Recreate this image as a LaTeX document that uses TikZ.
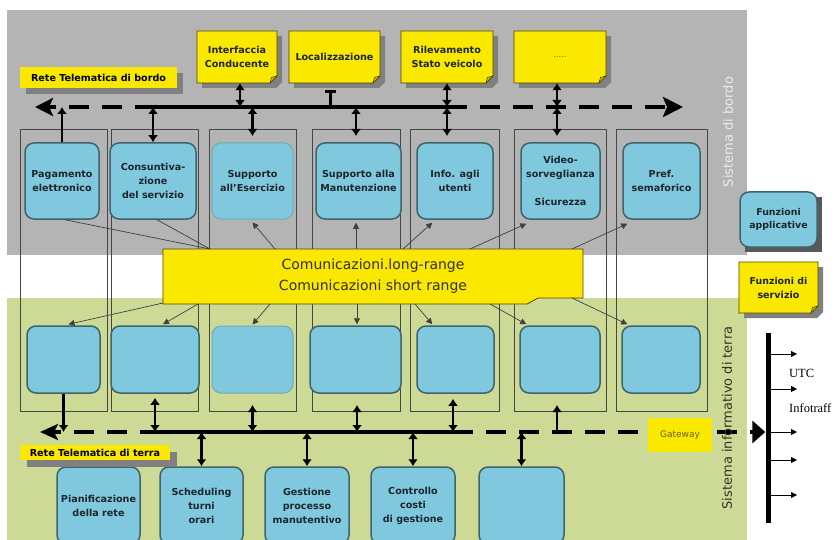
\documentclass[tikz,border=0pt]{standalone}
\usepackage{fontspec}
\setmainfont{DejaVu Sans}
\newfontfamily\serifface{Liberation Serif}
\usetikzlibrary{arrows.meta,calc}

\definecolor{bggray}{RGB}{180,180,180}
\definecolor{bggreen}{RGB}{205,218,150}
\definecolor{boxblue}{RGB}{128,200,221}
\definecolor{boxedge}{RGB}{62,100,110}
\definecolor{noteyellow}{RGB}{250,232,0}
\definecolor{noteedge}{RGB}{80,70,0}
\definecolor{notefoldc}{RGB}{205,190,0}
\definecolor{shadowgray}{RGB}{128,128,128}
\definecolor{inkdark}{RGB}{30,38,45}
\definecolor{colline}{RGB}{70,70,70}
\definecolor{gatetext}{RGB}{110,95,0}
\definecolor{sidewhite}{RGB}{236,236,236}
\definecolor{sidedark}{RGB}{50,50,40}

% yellow note with shadow and folded bottom-right corner
\newcommand\foldnote[6]{%
  \pgfmathsetmacro\nhw{#4/2}%
  \pgfmathsetmacro\nhh{#5/2}%
  \begin{scope}[shift={(#2,#3)}]
    \fill[shadowgray] (-\nhw+5,-\nhh+5) -- (\nhw+5,-\nhh+5) -- (\nhw+5,\nhh-1) -- (\nhw-1,\nhh+5) -- (-\nhw+5,\nhh+5) -- cycle;
    \filldraw[fill=noteyellow, draw=noteedge, line width=0.9pt] (-\nhw,-\nhh) -- (\nhw,-\nhh) -- (\nhw,\nhh-7) -- (\nhw-7,\nhh) -- (-\nhw,\nhh) -- cycle;
    \filldraw[fill=notefoldc, draw=noteedge, line width=0.6pt] (\nhw,\nhh-7) -- (\nhw-7,\nhh) -- (\nhw-5.5,\nhh-5.5) -- cycle;
  \end{scope}
  \node[notetext, minimum width=#4pt, minimum height=#5pt] (#1) at (#2,#3) {#6};
}

\begin{document}
\begin{tikzpicture}[x=1pt, y=-1pt,
  bluebox/.style={rounded corners=9pt, fill=boxblue, draw=boxedge, line width=1.5pt,
    text=inkdark, font=\bfseries\fontsize{9.6}{14}\selectfont, align=center, inner sep=0pt},
  notetext/.style={text=inkdark, font=\bfseries\fontsize{9.6}{14}\selectfont, align=center, inner sep=0pt},
  colbox/.style={draw=colline, line width=0.9pt, inner sep=0pt},
  bus/.style={line width=4pt, draw=black},
  busdash/.style={bus, dash pattern=on 20pt off 13pt},
  dbl/.style={line width=2.6pt, {Latex[length=7pt,width=10pt]}-{Latex[length=7pt,width=10pt]}},
  sgl/.style={line width=2.6pt, -{Latex[length=7pt,width=10pt]}},
  barc/.style={line width=2.6pt, {Bar[width=11pt,line width=2.5pt]}-},
  comline/.style={draw=black!75, line width=0.7pt},
  comarr/.style={comline, -{Triangle[length=6pt,width=6pt]}},
  tag/.style={fill=noteyellow, text=black, font=\bfseries\fontsize{9.6}{12}\selectfont, inner sep=0pt},
  outarr/.style={line width=0.8pt, -{Triangle[length=6pt,width=6pt]}},
]
\useasboundingbox (0,0) rectangle (840,540);
\clip (0,0) rectangle (840,540);

% on-board and ground system areas
\fill[bggray] (7,10) rectangle (747,255);
\fill[bggreen] (7,298) rectangle (747,545);

% function columns
\node[colbox, minimum width=87pt, minimum height=282pt] (k1) at (63.5,270) {};
\node[colbox, minimum width=87pt, minimum height=282pt] (k2) at (154.5,270) {};
\node[colbox, minimum width=87pt, minimum height=282pt] (k3) at (252.5,270) {};
\node[colbox, minimum width=88pt, minimum height=282pt] (k4) at (356,270) {};
\node[colbox, minimum width=89pt, minimum height=282pt] (k5) at (454.5,270) {};
\node[colbox, minimum width=92pt, minimum height=282pt] (k6) at (560,270) {};
\node[colbox, minimum width=91pt, minimum height=282pt] (k7) at (661.5,270) {};

% on-board functions
\node[bluebox, minimum width=74pt, minimum height=76pt] (b1) at (62,181) {Pagamento\\elettronico};
\node[bluebox, minimum width=86pt, minimum height=76pt] (b2) at (153,181) {Consuntiva-\\zione\\del servizio};
\node[bluebox, draw=boxblue!85!black, line width=1pt, minimum width=81pt, minimum height=76pt] (b3) at (252.5,181) {Supporto\\all'Esercizio};
\node[bluebox, minimum width=85pt, minimum height=76pt] (b4) at (358.5,181) {Supporto alla\\Manutenzione};
\node[bluebox, minimum width=76pt, minimum height=76pt] (b5) at (455,181) {Info. agli\\utenti};
\node[bluebox, minimum width=79pt, minimum height=76pt] (b6) at (560.5,181) {Video-\\sorveglianza\\[14pt]Sicurezza};
\node[bluebox, minimum width=77pt, minimum height=76pt] (b7) at (661.5,181) {Pref.\\semaforico};

% ground functions
\node[bluebox, minimum width=73pt, minimum height=67pt] (c1) at (63.5,359.5) {};
\node[bluebox, minimum width=88pt, minimum height=67pt] (c2) at (155,359.5) {};
\node[bluebox, draw=boxblue!85!black, line width=1pt, minimum width=81pt, minimum height=67pt] (c3) at (252.5,359.5) {};
\node[bluebox, minimum width=91pt, minimum height=67pt] (c4) at (355.5,359.5) {};
\node[bluebox, minimum width=77pt, minimum height=67pt] (c5) at (455.5,359.5) {};
\node[bluebox, minimum width=80pt, minimum height=67pt] (c6) at (560,359.5) {};
\node[bluebox, minimum width=78pt, minimum height=67pt] (c7) at (661,359.5) {};

% central services
\node[bluebox, minimum width=83pt, minimum height=77pt] (d1) at (98.5,505.5) {Pianificazione\\della rete};
\node[bluebox, minimum width=83pt, minimum height=77pt] (d2) at (201.5,505.5) {Scheduling\\turni\\orari};
\node[bluebox, minimum width=84pt, minimum height=77pt] (d3) at (307,505.5) {Gestione\\processo\\manutentivo};
\node[bluebox, minimum width=84pt, minimum height=77pt] (d4) at (413,505.5) {Controllo\\costi\\di gestione};
\node[bluebox, minimum width=85pt, minimum height=77pt] (d5) at (521.5,505.5) {};

% communications band
\filldraw[fill=noteyellow, draw=noteedge, line width=0.8pt]
  (163,249) -- (583,249) -- (583,298) -- (538,298) -- (527,304) -- (163,304) -- cycle;
\node[text=black!85!olive, font=\fontsize{14}{21}\selectfont, align=center, inner sep=0pt,
  minimum width=420pt, minimum height=55pt] (com) at (373,276)
  {Comunicazioni.long-range\\Comunicazioni short range};

% links from the communications band to the on-board functions
\coordinate (u1) at (210,249);
\coordinate (u3) at (275,249);
\coordinate (u4) at (356,249);
\coordinate (u5) at (403,249);
\coordinate (u6) at (470,249);
\coordinate (u7) at (572,249);
\draw[comline] (u1) -- ($(b1.south)+(3,0)$);
\draw[comline] (u1) -- ($(b2.south)+(4,0)$);
\draw[comarr] (u3) -- ($(b3.south)+(0,3)$);
\draw[comarr] (u4) -- ($(u4 |- b4.south)+(0,3)$);
\draw[comarr] (u5) -- ($(b5.south west)+(16,3)$);
\draw[comarr] (u6) -- ($(b6.south west)+(6,4)$);
\draw[comarr] (u7) -- ($(b7.south west)+(5,4)$);

% links from the communications band to the ground functions
\coordinate (l1) at (163,303);
\coordinate (l2) at (198,304);
\coordinate (l3) at (270,304);
\coordinate (l4) at (357,304);
\coordinate (l5) at (415,304);
\coordinate (l6) at (490,304);
\coordinate (l7) at (572,298);
\draw[comarr] (l1) -- ($(c1.north)+(5,-1)$);
\draw[comarr] (l2) -- ($(c2.north)+(8,-1)$);
\draw[comarr] (l3) -- ($(c3.north)+(0,-1)$);
\draw[comarr] (l4) -- ($(l4 |- c4.north)+(0,-1)$);
\draw[comarr] (l5) -- ($(c5.north west)+(16,-1)$);
\draw[comarr] (l6) -- ($(c6.north west)+(7,-1)$);
\draw[comarr] (l7) -- ($(c7.north west)+(6,-1)$);

% on-board devices
\foldnote{y1}{237}{57}{80}{52}{Interfaccia\\Conducente}
\foldnote{y2}{334.5}{57}{91}{52}{Localizzazione}
\foldnote{y3}{447}{57}{92}{52}{Rilevamento\\Stato veicolo}
\foldnote{y4}{560}{57}{92}{52}{\mdseries\fontsize{8}{9}\selectfont\color{gatetext}.....}

% on-board telematic network
\coordinate (tbL) at (35,107);
\coordinate (tbS) at (155,107);
\coordinate (tbE) at (447,107);
\coordinate (tbR) at (683,107);
\coordinate (ktop) at (0,136);
\draw[busdash, -{Stealth[length=18pt,width=18pt,inset=4pt]}] (tbS) -- (tbL);
\draw[bus] (tbS) -- (tbE);
\draw[busdash, -{Stealth[length=20pt,width=20pt,inset=4pt]}] (tbE) -- (tbR);

\fill[shadowgray] (26,73) rectangle (183,94);
\node[tag, minimum width=157pt, minimum height=21pt] (rtb) at (98.5,77.5) {Rete Telematica di bordo};

% on-board connections
\draw[sgl] (b1.north) -- (b1.north |- tbS);
\draw[dbl] (b2.north |- tbS) -- (b2.north);
\draw[dbl] (b3.north |- tbS) -- (b3.north |- ktop);
\draw[dbl] (u4 |- tbS) -- (u4 |- ktop);
\draw[dbl] (y3.south |- tbS) -- (y3.south |- ktop);
\draw[dbl] ($(y4.south |- tbS)+(-3,0)$) -- ($(y4.south |- ktop)+(-3,0)$);
\draw[dbl] ($(y1.south)+(3,0)$) -- ($(y1.south |- tbS)+(3,0)$);
\draw[barc] ($(y2.south)+(-4,7)$) -- ($(y2.south |- tbS)+(-4,0)$);
\draw[dbl] (y3.south) -- (y3.south |- tbS);
\draw[dbl] ($(y4.south)+(-3,0)$) -- ($(y4.south |- tbS)+(-3,0)$);

% ground telematic network
\coordinate (bbL) at (40,432);
\coordinate (bbS) at (160,432);
\coordinate (bbE) at (453,432);
\coordinate (kbot) at (0,405);
\node[fill=black, minimum width=5pt, minimum height=190pt, inner sep=0pt] (vbar) at (768,428) {};
\draw[busdash, -{Stealth[length=18pt,width=16pt,inset=4pt]}] (bbS) -- (bbL);
\draw[bus] (bbS) -- (bbE);
\draw[busdash, -{Triangle[length=13pt,width=22pt]}] (bbE) -- (vbar.west |- bbE);

\node[fill=noteyellow, text=gatetext, font=\fontsize{9}{10}\selectfont, inner sep=0pt,
  minimum width=64pt, minimum height=34pt] (gw) at (680,435) {Gateway};

\fill[shadowgray] (27,452) rectangle (177,467);
\node[tag, minimum width=150pt, minimum height=15pt] (rtt) at (95,452.5) {Rete Telematica di terra};

% ground connections
\draw[sgl] (c1.south) -- (c1.south |- bbS);
\draw[dbl] ($(c2.south)+(0,4)$) -- (c2.south |- bbS);
\draw[dbl] (c3.south |- kbot) -- (c3.south |- bbS);
\draw[dbl] (l4 |- kbot) -- (l4 |- bbS);
\draw[dbl] ($(bbE |- c5.south)+(0,5)$) -- (bbE);
\draw[{Latex[length=7pt,width=10pt]}-, line width=2.6pt] ($(c6.south |- kbot)+(-3,0)$) -- ($(c6.south |- bbS)+(-3,0)$);
\draw[dbl] (d2.north |- bbS) -- (d2.north);
\draw[dbl] (d3.north |- bbS) -- (d3.north);
\draw[dbl] (d4.north |- bbS) -- (d4.north);
\draw[dbl] (d5.north |- bbS) -- (d5.north);

% external systems
\foreach \yy [count=\i] in {354,389,432,460,495} {
  \coordinate (out\i) at (797,\yy);
  \draw[outarr] (vbar.east |- out\i) -- (out\i);
}
\node[anchor=west, font=\serifface\fontsize{12.5}{14}\selectfont, inner sep=0pt] (utc) at (789,373) {UTC};
\node[anchor=west, font=\serifface\fontsize{12.5}{14}\selectfont, inner sep=0pt] (itf) at (789,408) {Infotraff};

% area titles
\node[rotate=90, text=sidewhite, font=\fontsize{13}{15}\selectfont, inner sep=0pt] (sysb) at (728,132) {Sistema di bordo};
\node[rotate=90, text=sidedark, font=\fontsize{13}{15}\selectfont, inner sep=0pt] (syst) at (727,418) {Sistema informativo di terra};

% legend
\fill[black!65] (745,197) rectangle (822,252);
\node[bluebox, minimum width=77pt, minimum height=55pt, font=\bfseries\fontsize{9.4}{13}\selectfont] (lga) at (778.5,219.5) {Funzioni\\applicative};
\foldnote{lgs}{778.5}{287.5}{79}{51}{\fontsize{9.4}{13}\selectfont Funzioni di\\servizio}

\end{tikzpicture}
\end{document}
